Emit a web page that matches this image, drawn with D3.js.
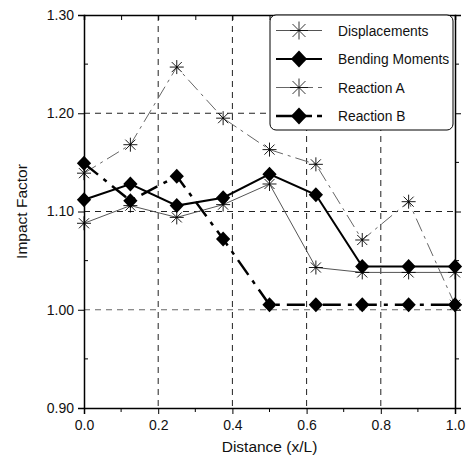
<!DOCTYPE html>
<html>
<head>
<meta charset="utf-8">
<script src="https://cdn.jsdelivr.net/npm/d3@7"></script>
<style>
  body { margin: 0; background: #fff; }
  text { font-family: "Liberation Sans", Arial, sans-serif; fill: #111; }
</style>
</head>
<body>
<div class="chart"></div>
<script>
/*data*/
var distance = [0, 0.125, 0.25, 0.375, 0.5, 0.625, 0.75, 0.875, 1.0];
var displacements = [1.088, 1.106, 1.094, 1.107, 1.128, 1.043, 1.038, 1.038, 1.038];
var bendingMoments = [1.112, 1.128, 1.106, 1.114, 1.138, 1.117, 1.044, 1.044, 1.044];
var reactionA = [1.139, 1.168, 1.247, 1.195, 1.163, 1.148, 1.071, 1.110, 1.005];
var reactionB = [1.149, 1.111, 1.136, 1.072, 1.005, 1.005, 1.005, 1.005, 1.005];
var seriesNames = ["Displacements", "Bending Moments", "Reaction A", "Reaction B"];
var xTicks = [0, 0.2, 0.4, 0.6, 0.8, 1.0];
var yTicks = [0.9, 1.0, 1.1, 1.2, 1.3];

var width = 470, height = 461;
var margin = {top: 15, bottom: 53, left: 84, right: 15};

var xScale = d3.scaleLinear().domain([0, 1]).range([margin.left, width - margin.right]);
var yScale = d3.scaleLinear().domain([0.9, 1.3]).range([height - margin.bottom, margin.top]);

var canvas = d3.select(".chart").append("svg")
  .attr("width", width)
  .attr("height", height);

/*grid lines*/
canvas.append("g").selectAll("line")
  .data(xTicks.slice(1, -1))
  .enter().append("line")
  .attr("x1", function(d){return xScale(d)})
  .attr("x2", function(d){return xScale(d)})
  .attr("y1", yScale(1.3)).attr("y2", yScale(0.9))
  .attr("stroke", "#222").attr("stroke-width", 1)
  .attr("stroke-dasharray", "6,5");

canvas.append("g").selectAll("line")
  .data([1.0, 1.1, 1.2])
  .enter().append("line")
  .attr("x1", xScale(0)).attr("x2", xScale(1))
  .attr("y1", function(d){return yScale(d)})
  .attr("y2", function(d){return yScale(d)})
  .attr("stroke", function(d){return d == 1.0 ? "#666" : "#222"})
  .attr("stroke-width", 1)
  .attr("stroke-dasharray", "6,5");

/*axes*/
var fmt = d3.format(".2f");
var yAxisL = d3.axisLeft(yScale).tickValues(yTicks).tickFormat(fmt).tickSizeOuter(0).tickSize(6).tickPadding(4);
var yAxisR = d3.axisRight(yScale).tickValues(yTicks).tickFormat("").tickSizeOuter(0).tickSize(6);
var xAxisB = d3.axisBottom(xScale).tickValues(xTicks).tickFormat(d3.format(".1f")).tickSizeOuter(0).tickSize(6).tickPadding(6);
var xAxisT = d3.axisTop(xScale).tickValues(d3.range(0, 1.01, 0.1)).tickFormat("").tickSizeOuter(0).tickSize(-5);

function styleAxis(g){
  g.select(".domain").attr("stroke", "#000").attr("stroke-width", 1.5);
  g.selectAll(".tick line").attr("stroke", "#000").attr("stroke-width", 1);
  g.selectAll(".tick text").style("font-size", "14px").attr("fill", "#111");
}

canvas.append("g").attr("transform", "translate(" + xScale(0) + ",0)").call(yAxisL).call(styleAxis);
canvas.append("g").attr("transform", "translate(" + xScale(1) + ",0)").call(yAxisR).call(styleAxis);
canvas.append("g").attr("transform", "translate(0," + yScale(0.9) + ")").call(xAxisB).call(styleAxis);
canvas.append("g").attr("transform", "translate(0," + yScale(1.3) + ")").call(xAxisT).call(styleAxis);

// minor ticks
canvas.append("g").selectAll("line")
  .data([0.95, 1.05, 1.15, 1.25])
  .enter().append("line")
  .attr("x1", xScale(0)).attr("x2", xScale(0) + 4)
  .attr("y1", function(d){return yScale(d)}).attr("y2", function(d){return yScale(d)})
  .attr("stroke", "#000");
canvas.append("g").selectAll("line")
  .data([0.95, 1.05, 1.15, 1.25])
  .enter().append("line")
  .attr("x1", xScale(1)).attr("x2", xScale(1) + 4)
  .attr("y1", function(d){return yScale(d)}).attr("y2", function(d){return yScale(d)})
  .attr("stroke", "#000");
canvas.append("g").selectAll("line")
  .data([0.1, 0.3, 0.5, 0.7, 0.9])
  .enter().append("line")
  .attr("x1", function(d){return xScale(d)}).attr("x2", function(d){return xScale(d)})
  .attr("y1", yScale(0.9)).attr("y2", yScale(0.9) + 4)
  .attr("stroke", "#000");

/*axis titles*/
canvas.append("text")
  .text("Distance (x/L)")
  .attr("text-anchor", "middle")
  .attr("x", (xScale(0) + xScale(1)) / 2)
  .attr("y", 452)
  .style("font-size", "15.5px");

canvas.append("text")
  .text("Impact Factor")
  .attr("text-anchor", "middle")
  .attr("transform", "translate(27," + (yScale(1.1) - 0) + ") rotate(-90)")
  .style("font-size", "15.5px");

/*markers*/
function asterisk(r){
  var a = r * 0.72;
  return "M0," + (-r) + "L0," + r + "M" + (-r) + ",0L" + r + ",0" +
    "M" + (-a) + "," + (-a) + "L" + a + "," + a + "M" + (-a) + "," + a + "L" + a + "," + (-a);
}
function diamond(r){
  return "M0," + (-r) + "L" + (r * 0.95) + ",0L0," + r + "L" + (-r * 0.95) + ",0Z";
}

var styles = [
  {values: displacements, stroke: "#555", width: 1, dash: null, legendDash: null, marker: "star"},
  {values: bendingMoments, stroke: "#000", width: 2, dash: null, legendDash: null, marker: "diamond"},
  {values: reactionA, stroke: "#666", width: 1, dash: "14,5,3,5", legendDash: "37,5,4,20", marker: "star"},
  {values: reactionB, stroke: "#000", width: 2.5, dash: "18,7,4,7", legendDash: "36,5,5,20", marker: "diamond"}
];

var line = d3.line()
  .x(function(d){return xScale(d[0])})
  .y(function(d){return yScale(d[1])});

function drawMarker(g, kind, x, y){
  if (kind == "star") {
    g.append("path").attr("d", asterisk(7))
      .attr("transform", "translate(" + x + "," + y + ")")
      .attr("stroke", "#000").attr("stroke-width", 0.9).attr("fill", "none");
  } else {
    g.append("path").attr("d", diamond(7.5))
      .attr("transform", "translate(" + x + "," + y + ")")
      .attr("fill", "#000").attr("stroke", "none");
  }
}

styles.forEach(function(s){
  var pts = distance.map(function(d, i){return [d, s.values[i]]});
  var g = canvas.append("g");
  g.append("path")
    .attr("d", line(pts))
    .attr("fill", "none")
    .attr("stroke", s.stroke)
    .attr("stroke-width", s.width)
    .attr("stroke-dasharray", s.dash);
  pts.forEach(function(p){
    drawMarker(g, s.marker, xScale(p[0]), yScale(p[1]));
  });
});

/*legend*/
var legend = canvas.append("g");
legend.append("rect")
  .attr("x", 270).attr("y", 15)
  .attr("width", 183).attr("height", 115)
  .attr("rx", 6)
  .attr("fill", "#fff")
  .attr("stroke", "#000")
  .attr("stroke-width", 1);

styles.forEach(function(s, i){
  var ly = 30.5 + i * 28.5;
  legend.append("line")
    .attr("x1", 276).attr("x2", 322)
    .attr("y1", ly).attr("y2", ly)
    .attr("stroke", s.stroke)
    .attr("stroke-width", s.width)
    .attr("stroke-dasharray", s.legendDash);
  if (s.marker == "star") {
    legend.append("path").attr("d", asterisk(9))
      .attr("transform", "translate(299," + ly + ")")
      .attr("stroke", "#000").attr("stroke-width", 0.8).attr("fill", "none");
  } else {
    legend.append("path").attr("d", diamond(8.5))
      .attr("transform", "translate(299," + ly + ")")
      .attr("fill", "#000");
  }
  legend.append("text")
    .text(seriesNames[i])
    .attr("x", 338).attr("y", ly + 5)
    .style("font-size", "13.8px");
});
</script>
</body>
</html>
